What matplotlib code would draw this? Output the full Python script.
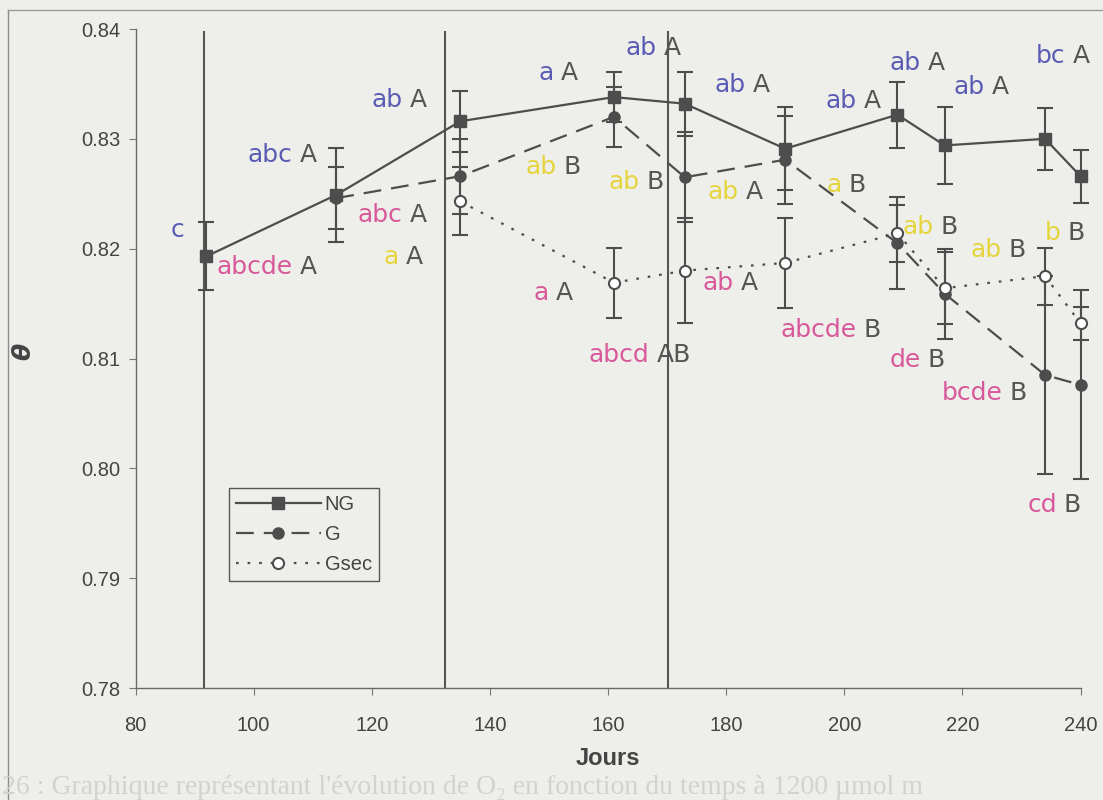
import matplotlib
matplotlib.use('Agg')
import matplotlib.pyplot as plt
from matplotlib.lines import Line2D

# sampling days and mean theta values (+/- error) for the three treatments
jours = [92, 114, 135, 161, 173, 190, 209, 217, 234, 240]
ng = [0.8193, 0.8249, 0.8316, 0.8338, 0.8332, 0.8291, 0.8322, 0.8294, 0.8300, 0.8266]
ng_err = [0.0031, 0.0043, 0.0028, 0.0023, 0.0029, 0.0038, 0.0030, 0.0035, 0.0028, 0.0024]

jours_g = [114, 135, 161, 173, 190, 209, 217, 234, 240]
g = [0.8246, 0.8266, 0.8320, 0.8265, 0.8281, 0.8205, 0.8159, 0.8085, 0.8076]
g_err = [0.0028, 0.0034, 0.0027, 0.0041, 0.0040, 0.0042, 0.0041, 0.0090, 0.0086]

jours_gsec = [135, 161, 173, 190, 209, 217, 234, 240]
gsec = [0.8243, 0.8169, 0.8180, 0.8187, 0.8214, 0.8164, 0.8175, 0.8132]
gsec_err = [0.0031, 0.0032, 0.0048, 0.0041, 0.0026, 0.0033, 0.0026, 0.0015]

# days of the treatment changes
evenements = [91.6, 132.4, 170.2]

# significance letters: (lower-case group, upper-case group)
lettres_ng = [('c', ''), ('abc', 'A'), ('ab', 'A'), ('a', 'A'), ('ab', 'A'),
              ('ab', 'A'), ('ab', 'A'), ('ab', 'A'), ('ab', 'A'), ('bc', 'A')]
pos_ng = [(88.9, 0.8217), (107.2, 0.8285), (125.8, 0.8335), (151.4, 0.8360),
          (168.8, 0.8383), (183.9, 0.8349), (202.7, 0.8334), (213.5, 0.8369),
          (224.4, 0.8347), (238.1, 0.8375)]

lettres_g = [('a', 'A'), ('ab', 'B'), ('ab', 'B'), ('ab', 'A'), ('a', 'B'),
             ('ab', 'B'), ('ab', 'B'), ('b', 'B')]
pos_g = [(125.1, 0.8192), (151.9, 0.8274), (165.9, 0.8261), (182.7, 0.8252),
         (200.1, 0.8258), (215.7, 0.8220), (227.2, 0.8199), (237.2, 0.8214)]

lettres_gsec = [('abcde', 'A'), ('abc', 'A'), ('a', 'A'), ('abcd', 'AB'), ('ab', 'A'),
                ('abcde', 'B'), ('de', 'B'), ('bcde', 'B'), ('cd', 'B')]
pos_gsec = [(107.2, 0.8183), (125.8, 0.8231), (150.5, 0.8160), (167.6, 0.8103),
            (181.9, 0.8169), (202.7, 0.8126), (213.5, 0.8099), (227.4, 0.8069),
            (236.6, 0.7967)]

fond = '#eeefeb'
trait = '#4d4d4d'
gris = '#555555'

fig = plt.figure(figsize=(11.03, 8), dpi=100, facecolor=fond)
ax = fig.add_axes([135.5 / 1103, 1 - 688 / 800, 945 / 1103, 659 / 800])
ax.set_facecolor(fond)

style = dict(color=trait, lw=1.6, capsize=6, capthick=1.5, elinewidth=1.5)
cg = ax.errorbar(jours_g, g, yerr=g_err, marker='o', ms=8, ls=(0, (8, 4.5)),
                 zorder=3, **style)
cs = ax.errorbar(jours_gsec, gsec, yerr=gsec_err, marker='o', ms=8, mfc='white',
                 mew=1.5, ls=(0, (1.2, 4)), zorder=4, **style)
cn = ax.errorbar(jours, ng, yerr=ng_err, marker='s', ms=9, ls='-', zorder=5, **style)
for c in (cg, cs, cn):
    for art in c.get_children():
        art.set_clip_on(False)

for j in evenements:
    ax.axvline(j, ymin=0, ymax=0.9954, color=gris, lw=1.5, zorder=2)

def lettres(txts, pos, couleur):
    for (bas, haut), (x, y) in zip(txts, pos):
        ax.annotate(bas, (x, y), xytext=(-2.5, 0), textcoords='offset points',
                    ha='right', va='center', color=couleur, fontsize=18,
                    family='DejaVu Sans', zorder=6, annotation_clip=False)
        if haut:
            ax.annotate(haut, (x, y), xytext=(2.5, 0), textcoords='offset points',
                        ha='left', va='center', color=gris, fontsize=18,
                        family='DejaVu Sans', zorder=6, annotation_clip=False)

lettres(lettres_ng, pos_ng, '#5a5cb4')
lettres(lettres_g, pos_g, '#e6d43c')
lettres(lettres_gsec, pos_gsec, '#d9589a')

ax.set_xlim(80, 240)
ax.set_ylim(0.78, 0.84)
ax.set_xticks(range(80, 241, 20))
ax.set_yticks([0.78, 0.79, 0.80, 0.81, 0.82, 0.83, 0.84])
ax.set_yticklabels(['0.78', '0.79', '0.80', '0.81', '0.82', '0.83', '0.84'])
for s in ('top', 'right'):
    ax.spines[s].set_visible(False)
for s in ('left', 'bottom'):
    ax.spines[s].set_color('#6a6a6a')
    ax.spines[s].set_linewidth(1)
ax.tick_params(axis='both', direction='out', length=5, color='#777777',
               labelsize=14.5, labelcolor='#444444')
ax.tick_params(axis='x', pad=15)
ax.tick_params(axis='y', pad=6)
for lab in ax.get_xticklabels() + ax.get_yticklabels():
    lab.set_family('Liberation Sans')

ax.set_xlabel('Jours', fontsize=17, fontweight='bold', family='Liberation Sans',
              color='#444444')
ax.xaxis.set_label_coords(0.5, -0.09)
ax.set_ylabel('θ', fontsize=18, fontweight='bold', style='italic', color='#444444')
ax.yaxis.set_label_coords(-0.106, 0.51)

poignees = [
    Line2D([], [], color=trait, lw=1.6, marker='s', ms=9),
    Line2D([], [], color=trait, lw=1.6, ls=(0, (8, 4.5)), marker='o', ms=8),
    Line2D([], [], color=trait, lw=1.6, ls=(0, (1.2, 4)), marker='o', ms=8,
           mfc='white', mew=1.5),
]
leg = ax.legend(poignees, ['NG', 'G', 'Gsec'], loc='upper left',
                bbox_to_anchor=(229 / 1103, 1 - 488 / 800),
                bbox_transform=fig.transFigure, borderaxespad=0,
                prop={'family': 'Liberation Sans', 'size': 14.5},
                handlelength=4.2, handletextpad=0.2, labelspacing=0.55,
                borderpad=0.35, fancybox=False, framealpha=1, facecolor=fond,
                edgecolor='#555555')
leg.get_frame().set_linewidth(1)
for t in leg.get_texts():
    t.set_color('#444444')

# page frame and caption
fig.add_artist(Line2D([8 / 1103, 8 / 1103], [0, 1 - 10 / 800], transform=fig.transFigure,
                      color='#8c8c8c', lw=1))
fig.add_artist(Line2D([8 / 1103, 1], [1 - 10 / 800, 1 - 10 / 800],
                      transform=fig.transFigure, color='#9a9a9a', lw=1))
fig.text(0.002, 1 - 787 / 800, "26 : Graphique représentant l'évolution de O₂ en fonction du temps à 1200 µmol m",
         fontsize=20, family=['Liberation Serif', 'DejaVu Serif'], color='#d2d2ce',
         va='center', ha='left')

fig.savefig('out.png', dpi=100, facecolor=fond)
